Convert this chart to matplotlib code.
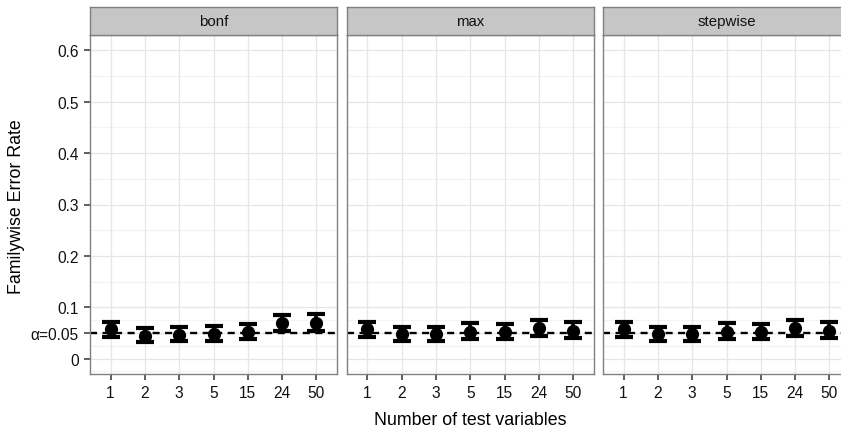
import matplotlib
matplotlib.use("Agg")
import matplotlib.pyplot as plt
import numpy as np

plt.rcParams['font.family'] = ['Liberation Sans', 'DejaVu Sans']

# Facets (procedure) and x categories (number of test variables)
methods = ["bonf", "max", "stepwise"]
n_vars = ["1", "2", "3", "5", "15", "24", "50"]

# Estimated familywise error rate with lower / upper interval bounds
fwer = {
    "bonf":     [0.057, 0.044, 0.046, 0.047, 0.052, 0.069, 0.070],
    "max":      [0.057, 0.047, 0.047, 0.052, 0.052, 0.059, 0.054],
    "stepwise": [0.057, 0.047, 0.047, 0.052, 0.052, 0.060, 0.054],
}
fwer_lo = {
    "bonf":     [0.042, 0.033, 0.034, 0.035, 0.038, 0.054, 0.054],
    "max":      [0.042, 0.034, 0.034, 0.039, 0.038, 0.044, 0.041],
    "stepwise": [0.042, 0.034, 0.034, 0.039, 0.038, 0.044, 0.041],
}
fwer_hi = {
    "bonf":     [0.071, 0.059, 0.061, 0.063, 0.068, 0.085, 0.087],
    "max":      [0.071, 0.061, 0.062, 0.069, 0.068, 0.075, 0.071],
    "stepwise": [0.071, 0.061, 0.062, 0.069, 0.068, 0.075, 0.071],
}

alpha = 0.05
y_ticks = [0, 0.05, 0.1, 0.2, 0.3, 0.4, 0.5, 0.6]
y_labels = ["0", "\u03b1=0.05", "0.1", "0.2", "0.3", "0.4", "0.5", "0.6"]
y_minor = [-0.025, 0.025, 0.075, 0.15, 0.25, 0.35, 0.45, 0.55]

W, H = 841, 435
fig = plt.figure(figsize=(W / 100, H / 100), dpi=100)

panel_left = [90, 346.7, 603]
panel_w = 247
panel_top, panel_bottom = 36, 375
strip_top = 8

border_col = "#808080"
text_col = "#111111"

x = np.arange(1, len(n_vars) + 1)

for i, m in enumerate(methods):
    l = panel_left[i]
    ax = fig.add_axes([l / W, (H - panel_bottom) / H, panel_w / W,
                       (panel_bottom - panel_top) / H])
    ax.set_xlim(0.4, 7.6)
    ax.set_ylim(-0.03, 0.63)

    # grid
    for yv in y_minor:
        ax.axhline(yv, color="#f3f3f3", lw=0.8, zorder=0)
    for yv in y_ticks:
        ax.axhline(yv, color="#e6e6e6", lw=0.9, zorder=0.5)
    for xv in x:
        ax.axvline(xv, color="#e6e6e6", lw=0.9, zorder=0.5)

    # reference line at alpha
    ax.axhline(alpha, color="black", lw=1.7, ls=(0, (3, 2.3)), zorder=2)

    y = np.array(fwer[m])
    lo = np.array(fwer_lo[m])
    hi = np.array(fwer_hi[m])
    ax.errorbar(x, y, yerr=[y - lo, hi - y], fmt="o", color="black",
                ms=8.5, elinewidth=2.6, capsize=6.6, capthick=3.0, zorder=3)

    for s in ax.spines.values():
        s.set_color(border_col)
        s.set_linewidth(1.0)

    ax.set_xticks(x)
    ax.set_xticklabels(n_vars, fontsize=11.2, color=text_col)
    ax.tick_params(axis="x", length=4, width=1.1, color="#333333", pad=4)
    if i == 0:
        ax.set_yticks(y_ticks)
        ax.set_yticklabels(y_labels, fontsize=11.2, color=text_col)
        ax.tick_params(axis="y", length=4, width=1.1, color="#333333", pad=4)
    else:
        ax.set_yticks([])

    # facet strip
    sax = fig.add_axes([l / W, (H - panel_top) / H, panel_w / W,
                        (panel_top - strip_top) / H])
    sax.set_facecolor("#c6c6c6")
    sax.set_xticks([])
    sax.set_yticks([])
    for s in sax.spines.values():
        s.set_color(border_col)
        s.set_linewidth(1.0)
    sax.text(0.5, 0.5, m, ha="center", va="center", fontsize=10.8,
             color=text_col, transform=sax.transAxes)

fig.text(17 / W, 1 - 207 / H, "Familywise Error Rate", rotation=90,
         ha="center", va="center", fontsize=12.8, color="black")
fig.text(470 / W, 1 - 421 / H, "Number of test variables",
         ha="center", va="center", fontsize=12.8, color="black")

fig.savefig("out.png", dpi=100, facecolor="white")
